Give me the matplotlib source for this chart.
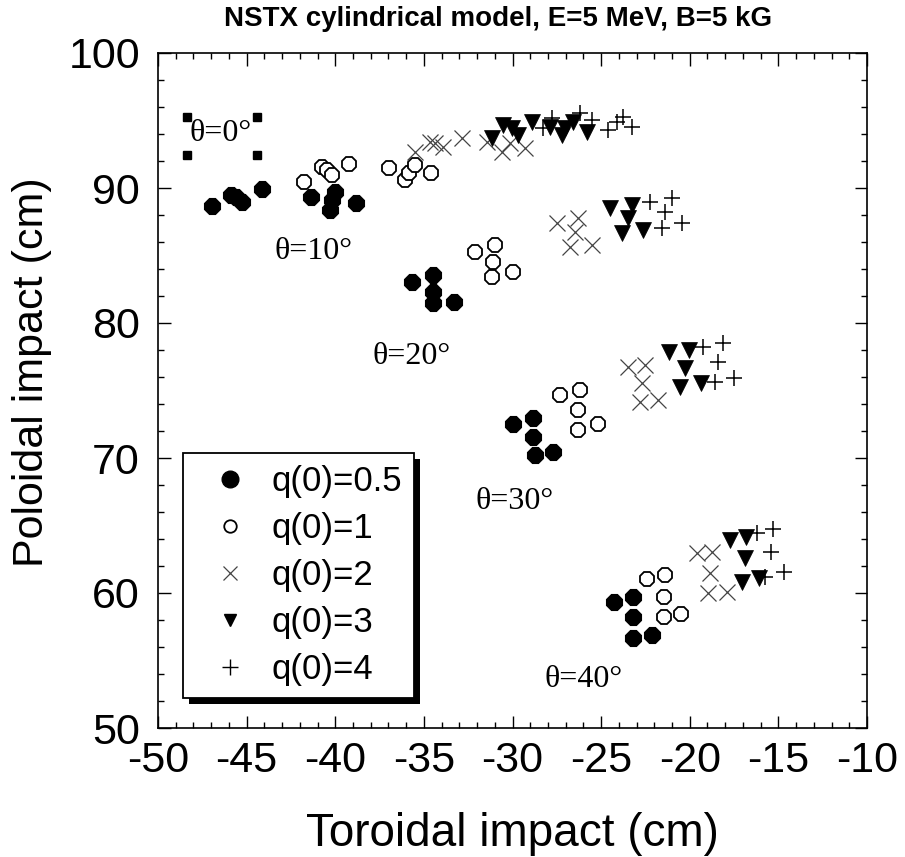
import matplotlib
matplotlib.use("Agg")
import matplotlib.pyplot as plt
from matplotlib.lines import Line2D
from matplotlib.patches import Rectangle
from matplotlib.ticker import MultipleLocator

plt.rcParams['font.family'] = ['Liberation Sans', 'DejaVu Sans']
plt.rcParams['axes.unicode_minus'] = False

# ---------------- data ----------------
q05_x = [-46.97, -45.88, -45.60, -45.28, -44.15,
         -41.37, -40.29, -40.20, -40.01, -38.83,
         -35.68, -34.46, -34.46, -34.46, -33.30,
         -29.95, -28.86, -28.82, -28.72, -27.73,
         -24.27, -23.21, -23.18, -23.18, -22.14]
q05_y = [88.67, 89.48, 89.30, 88.99, 89.90,
         89.36, 88.37, 89.10, 89.73, 88.91,
         83.06, 83.56, 82.32, 81.46, 81.58,
         72.52, 72.94, 71.53, 70.22, 70.47,
         59.36, 59.73, 58.20, 56.64, 56.89]

q1_x = [-41.76, -40.76, -40.48, -40.20, -39.20,
        -36.95, -36.06, -35.82, -35.50, -34.61,
        -32.11, -30.98, -31.08, -31.17, -29.95,
        -27.31, -26.19, -26.28, -26.28, -25.15,
        -22.42, -21.39, -21.43, -21.43, -20.49]
q1_y = [90.47, 91.58, 91.33, 90.96, 91.78,
        91.50, 90.59, 91.09, 91.70, 91.09,
        85.28, 85.78, 84.54, 83.43, 83.80,
        74.67, 75.04, 73.56, 72.07, 72.52,
        61.01, 61.33, 59.73, 58.20, 58.44]

q2_x = [-35.50, -34.65, -34.37, -33.90, -32.86, -31.45, -30.60, -30.14, -29.29,
        -27.50, -26.28, -26.47, -26.75, -25.53,
        -23.46, -22.52, -22.71, -22.80, -21.77,
        -19.60, -18.75, -18.85, -18.95, -17.91]
q2_y = [92.69, 93.43, 93.31, 93.06, 93.68, 93.43, 92.69, 93.31, 92.94,
        87.38, 87.75, 86.76, 85.65, 85.78,
        76.76, 76.89, 75.53, 74.17, 74.30,
        62.94, 63.06, 61.46, 59.98, 60.10]

q3_x = [-31.17, -30.51, -30.04, -29.67, -28.91, -27.88, -27.22, -27.03, -26.56, -25.81,
        -24.49, -23.27, -23.46, -23.83, -22.61,
        -21.15, -20.07, -20.26, -20.54, -19.37,
        -17.72, -16.82, -16.88, -17.06, -16.12]
q3_y = [93.68, 94.67, 94.42, 93.93, 94.91, 94.54, 93.93, 94.42, 94.91, 94.17,
        88.50, 88.74, 87.75, 86.64, 86.89,
        77.87, 78.00, 76.64, 75.28, 75.53,
        63.93, 64.17, 62.57, 60.84, 61.09]

q4_x = [-28.26, -27.79, -26.19, -25.53, -24.59, -24.12, -23.74, -23.27,
        -22.24, -21.01, -21.39, -21.58, -20.45,
        -19.23, -18.10, -18.38, -18.57, -17.53,
        -16.22, -15.30, -15.42, -15.74, -14.71]
q4_y = [94.42, 95.16, 95.53, 95.04, 94.30, 94.91, 95.28, 94.54,
        88.99, 89.24, 88.25, 87.01, 87.43,
        78.25, 78.50, 77.13, 75.65, 75.90,
        64.42, 64.72, 63.06, 61.21, 61.58]

sq_x = [-48.38, -44.43, -48.38, -44.43]
sq_y = [95.24, 95.24, 92.44, 92.44]

theta_labels = ["θ=0°", "θ=10°", "θ=20°", "θ=30°", "θ=40°"]
theta_x = [-46.47, -41.25, -35.67, -29.9, -25.96]
theta_y = [94.07, 85.33, 77.55, 66.76, 53.56]

legend_labels = ["q(0)=0.5", "q(0)=1", "q(0)=2", "q(0)=3", "q(0)=4"]

# ---------------- figure ----------------
fig = plt.figure(figsize=(9.05, 8.57), dpi=100)
ax = fig.add_axes([158/905, 1-728/857, 709/905, 675/857])

ax.plot(q05_x, q05_y, ls='none', marker='8', ms=12.5, mfc='black', mec='black', mew=0.8)
ax.plot(q1_x, q1_y, ls='none', marker='8', ms=11, mfc='white', mec='black', mew=1.3)
ax.plot(q2_x, q2_y, ls='none', marker='x', ms=12, mec='#444444', mew=0.9)
ax.plot(q3_x, q3_y, ls='none', marker='v', ms=11, mfc='black', mec='black', mew=0.5)
ax.plot(q4_x, q4_y, ls='none', marker='+', ms=12, mec='black', mew=1.1)
ax.plot(sq_x, sq_y, ls='none', marker='s', ms=6, mfc='black', mec='black')

for lab, tx, ty in zip(theta_labels, theta_x, theta_y):
    ax.text(tx, ty, lab, ha='center', va='center', fontsize=23,
            family=['Liberation Serif', 'DejaVu Serif'])

ax.set_xlim(-50, -10)
ax.set_ylim(50, 100)
ax.xaxis.set_major_locator(MultipleLocator(5))
ax.xaxis.set_minor_locator(MultipleLocator(1))
ax.yaxis.set_major_locator(MultipleLocator(10))
ax.yaxis.set_minor_locator(MultipleLocator(2))
ax.tick_params(which='both', direction='in', top=True, right=True, width=1.0)
ax.tick_params(which='major', length=9)
ax.tick_params(which='minor', length=4.5)
ax.tick_params(axis='x', which='major', labelsize=31, pad=9)
ax.tick_params(axis='y', which='major', labelsize=31, pad=13)
for s in ax.spines.values():
    s.set_linewidth(1.2)

ax.set_xlabel("Toroidal impact (cm)", fontsize=33)
ax.set_ylabel("Poloidal impact (cm)", fontsize=31)
ax.xaxis.set_label_coords(0.5, -0.125)
ax.yaxis.set_label_coords(-0.15, 0.527)

fig.text(498/905, 1-19/857, "NSTX cylindrical model, E=5 MeV, B=5 kG",
         ha='center', va='center', fontsize=20, fontweight='bold')

handles = [
    Line2D([], [], ls='none', marker='o', ms=12, mfc='black', mec='black'),
    Line2D([], [], ls='none', marker='o', ms=9, mfc='white', mec='black', mew=1.3),
    Line2D([], [], ls='none', marker='x', ms=10, mec='#444444', mew=0.9),
    Line2D([], [], ls='none', marker='v', ms=9, mfc='black', mec='black'),
    Line2D([], [], ls='none', marker='+', ms=11, mec='black', mew=1.0),
]
leg = ax.legend(handles, legend_labels, loc='upper left',
                bbox_to_anchor=((183-158)/709, (728-453)/675),
                borderaxespad=0, fontsize=25, frameon=True, fancybox=False,
                borderpad=0.35, handlelength=2.0, handletextpad=0.2,
                labelspacing=0.4, edgecolor='black', framealpha=1)
leg.get_frame().set_linewidth(1.3)
leg.set_zorder(6)

fig.canvas.draw()
bb = leg.get_window_extent()
off = 6
inv = ax.transAxes.inverted()
(x0, y0) = inv.transform((bb.x0 + off, bb.y0 - off))
(x1, y1) = inv.transform((bb.x1 + off, bb.y1 - off))
ax.add_patch(Rectangle((x0, y0), x1 - x0, y1 - y0, transform=ax.transAxes,
                       facecolor='black', edgecolor='none', zorder=5, clip_on=False))

fig.savefig("out.png", dpi=100)
